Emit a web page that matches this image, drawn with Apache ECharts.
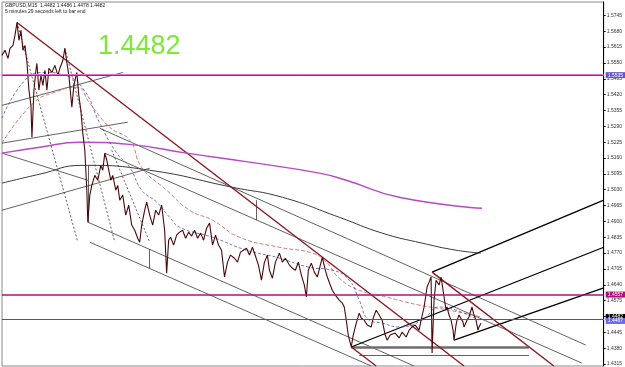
<!DOCTYPE html>
<html>
<head>
<meta charset="utf-8">
<title>GBPUSD,M15</title>
<script src="https://cdn.jsdelivr.net/npm/echarts@6/dist/echarts.min.js"></script>
<style>
html,body{margin:0;padding:0;background:#fff;}
#chart{width:625px;height:367px;}
</style>
</head>
<body>
<div id="chart"></div>
<script>
// price path (bar index, close)
var barX = [2,5,8,10,13,15,17,19,21,23,25,27,29,31,32,34,36,37,39,41,43,45,47,49,52,55,58,60,63,65,67,69,72,74,77,79,81,83,85,87,88,90,92,95,98,101,103,105,107,109,111,113,116,118,120,123,126,129,132,135,138,140,142,145,147,150,153,156,159,162,165,167,169,171,174,177,180,183,186,189,192,195,198,201,204,207,210,213,216,219,222,225,228,231,235,238,241,244,247,250,253,256,259,262,265,268,270,273,276,280,283,286,290,293,296,299,302,305,307,309,312,315,318,321,323,326,328,331,333,336,340,343,345,347,349,352,354,357,360,362,365,368,372,374,377,380,383,386,388,391,393,396,400,403,407,410,413,416,420,422,425,428,430,432,433,435,437,440,442,444,445,447,448,450,452,454,455,457,458,460,462,464,465,468,470,472,473,475,477,479,480,482];
var closes = [1.5581,1.5602,1.5569,1.5610,1.5622,1.5663,1.5716,1.5643,1.5684,1.5602,1.5622,1.5552,1.5438,1.5376,1.5245,1.5438,1.5520,1.5548,1.5438,1.5499,1.5458,1.5520,1.5438,1.5528,1.5511,1.5540,1.5499,1.5528,1.5561,1.5610,1.5552,1.5499,1.5368,1.5458,1.5511,1.5417,1.5356,1.5262,1.5192,1.5028,1.4897,1.5008,1.5048,1.5089,1.5069,1.5130,1.5110,1.5180,1.5151,1.5110,1.5069,1.5089,1.5028,1.5048,1.4987,1.5008,1.4926,1.4967,1.4885,1.4864,1.4831,1.4815,1.4885,1.4946,1.4979,1.4926,1.4885,1.4946,1.4926,1.4967,1.4864,1.4688,1.4823,1.4835,1.4803,1.4844,1.4856,1.4864,1.4831,1.4856,1.4840,1.4864,1.4831,1.4852,1.4823,1.4872,1.4893,1.4803,1.4844,1.4803,1.4782,1.4672,1.4733,1.4762,1.4749,1.4733,1.4774,1.4782,1.4790,1.4762,1.4794,1.4758,1.4721,1.4659,1.4733,1.4762,1.4700,1.4667,1.4733,1.4770,1.4733,1.4749,1.4721,1.4708,1.4700,1.4733,1.4680,1.4639,1.4590,1.4700,1.4729,1.4692,1.4672,1.4721,1.4753,1.4700,1.4672,1.4639,1.4618,1.4598,1.4577,1.4565,1.4549,1.4495,1.4434,1.4385,1.4434,1.4483,1.4524,1.4504,1.4495,1.4475,1.4467,1.4504,1.4536,1.4516,1.4495,1.4434,1.4413,1.4434,1.4426,1.4442,1.4422,1.4446,1.4426,1.4454,1.4467,1.4475,1.4454,1.4495,1.4549,1.4631,1.4651,1.4672,1.4360,1.4577,1.4659,1.4639,1.4672,1.4618,1.4590,1.4536,1.4549,1.4516,1.4495,1.4454,1.4413,1.4475,1.4495,1.4516,1.4524,1.4487,1.4467,1.4495,1.4508,1.4536,1.4549,1.4516,1.4495,1.4454,1.4467,1.4482];

// moving averages
var maSlowX = [2,40,80,130,187,250,320,347,400,483];
var maSlow  = [1.5180,1.5204,1.5225,1.5216,1.5180,1.5143,1.5098,1.5069,1.4999,1.4954];
var maMidX = [2,40,82,150,233,283,340,383,423,457,482];
var maMid  = [1.5057,1.5094,1.5130,1.5110,1.5040,1.4999,1.4917,1.4852,1.4811,1.4782,1.4770];
var maRedX = [2,33,55,77,90,110,130,142,167,190,213,240,280,313,327,340,360,387,420,450,482];
var maRed  = [1.5221,1.5384,1.5430,1.5450,1.5384,1.5286,1.5233,1.5122,1.5028,1.4946,1.4905,1.4835,1.4794,1.4770,1.4733,1.4667,1.4618,1.4590,1.4557,1.4536,1.4508];
var maBlueX = [2,25,45,65,83,100,117,130,142,157,170,180,213,247,277,310,333,350,360,370,383,400,423,440,457,480];
var maBlue  = [1.5323,1.5479,1.5511,1.5499,1.5446,1.5303,1.5180,1.5122,1.5028,1.4979,1.4917,1.4876,1.4835,1.4782,1.4753,1.4712,1.4700,1.4659,1.4577,1.4495,1.4483,1.4467,1.4495,1.4549,1.4536,1.4495];

// drawn objects: [x1, price1, x2, price2]
var redLines = [[17,1.5716,465,1.4307],[433,1.4692,555,1.4307],[352,1.4385,377,1.4307]];
var forkLines = [[433,1.4692,605,1.4987],[352,1.4385,605,1.4794],[455,1.4413,605,1.4627]];
var thinLines = [[88,1.4897,415,1.4307],[90,1.4815,372,1.4307],[100,1.5282,587,1.4393],[105,1.5180,583,1.4319],
  [2,1.5376,123,1.5511],[2,1.5221,128,1.5307],[2,1.4946,150,1.5118],[2,1.5180,88,1.5069],
  [88,1.5130,88,1.4897],[150,1.4786,150,1.4708],[257,1.4987,257,1.4905],[360,1.4352,530,1.4352]];
var dotLines = [[17,1.5716,78,1.4815],[65,1.5610,115,1.4815],[112,1.5192,150,1.4815]];
var supportLine = [[352,1.4385,530,1.4385]];

// right axis ticks
var priceTicks = [1.4315,1.4380,1.4445,1.4510,1.4575,1.4640,1.4705,1.4770,1.4835,1.4900,1.4965,1.5030,1.5095,1.5160,1.5225,1.5290,1.5355,1.5420,1.5485,1.5550,1.5615,1.5680,1.5745];

var levels = [
  {v:1.5535, color:'#e070d8', w:2, bg:'#6a52d0', dy:0},
  {v:1.5540, color:'#5a3ec0', w:1, bg:null, dy:0},
  {v:1.4557, color:'#b0107a', w:1.5, bg:'#b0107a', dy:0},
  {v:1.4482, color:'#b4b4b4', w:1, bg:'#000000', dy:-2},
  {v:1.4467, color:'#4a4ac8', w:1, bg:'#6a6ae8', dy:2}
];

function pts(xs, ys){
  var out = [];
  for(var i = 0; i < xs.length; i++) out.push([xs[i], ys[i]]);
  return out;
}
function segs(list){
  return list.map(function(s){ return {coords: [[s[0], s[1]], [s[2], s[3]]]}; });
}
function segSeries(list, color, width, type){
  return {
    type: 'lines', coordinateSystem: 'cartesian2d', silent: true,
    data: segs(list),
    lineStyle: {color: color, width: width, type: type || 'solid', opacity: 1}
  };
}

var myChart = echarts.init(document.getElementById('chart'));

var markData = levels.map(function(l){
  return {
    yAxis: l.v,
    lineStyle: {color: l.color, width: l.w, type: 'solid'},
    label: l.bg ? {
      show: true, position: 'end', distance: 2, offset: [0, l.dy],
      formatter: l.v.toFixed(4), color: '#fff', fontSize: 5, lineHeight: 6,
      backgroundColor: l.bg, padding: [0, 2]
    } : {show: false}
  };
});

var option = {
  backgroundColor: '#ffffff',
  animation: false,
  grid: {left: 2, right: 20, top: 2, bottom: 1, show: true, borderColor: '#8a8a8a', borderWidth: 1},
  xAxis: {type: 'value', min: 2, max: 605, show: false},
  yAxis: {
    type: 'value', position: 'right', min: 1.4307, max: 1.5800, scale: true,
    splitLine: {show: false},
    axisLine: {show: true, lineStyle: {color: '#000', width: 1}},
    axisTick: {show: true, length: 2, customValues: priceTicks, lineStyle: {color: '#000'}},
    axisLabel: {show: true, customValues: priceTicks, fontSize: 5, color: '#333', margin: 3,
      fontFamily: 'Liberation Sans',
      formatter: function(v){ return v.toFixed(4); }}
  },
  graphic: [
    {type: 'text', left: 5, top: 3, style: {text: 'GBPUSD,M15  1.4482 1.4486 1.4478 1.4482', fontSize: 5, fill: '#222', fontFamily: 'Liberation Sans'}},
    {type: 'text', left: 5, top: 9, style: {text: '5 minutes 29 seconds left to bar end', fontSize: 5, fill: '#222', fontFamily: 'Liberation Sans'}},
    {type: 'text', left: 98, top: 33, style: {text: '1.4482', fontSize: 27, fill: '#7ee83a', fontFamily: 'Liberation Sans'}}
  ],
  series: [
    {type: 'line', data: pts(maSlowX, maSlow), smooth: true, showSymbol: false, silent: true,
      lineStyle: {color: '#b848c8', width: 1.4}},
    {type: 'line', data: pts(maMidX, maMid), smooth: true, showSymbol: false, silent: true,
      lineStyle: {color: '#3a3a3a', width: 1}},
    {type: 'line', data: pts(maRedX, maRed), smooth: true, showSymbol: false, silent: true,
      lineStyle: {color: '#d07a80', width: 1, type: [4, 2]}},
    {type: 'line', data: pts(maBlueX, maBlue), smooth: true, showSymbol: false, silent: true,
      lineStyle: {color: '#5050a8', width: 0.8, type: [3, 2]}},
    segSeries(thinLines, '#3a3a3a', 0.8),
    segSeries(dotLines, '#333', 0.8, [2, 2]),
    segSeries(supportLine, '#6e6e6e', 2.5),
    segSeries(forkLines, '#000', 1.3),
    segSeries(redLines, '#8b1820', 1.4),
    {type: 'line', data: pts(barX, closes), showSymbol: false, silent: true,
      lineStyle: {color: '#4a0a0a', width: 1.1},
      markLine: {silent: true, symbol: 'none', animation: false, data: markData}}
  ]
};
myChart.setOption(option, true);
</script>
</body>
</html>
